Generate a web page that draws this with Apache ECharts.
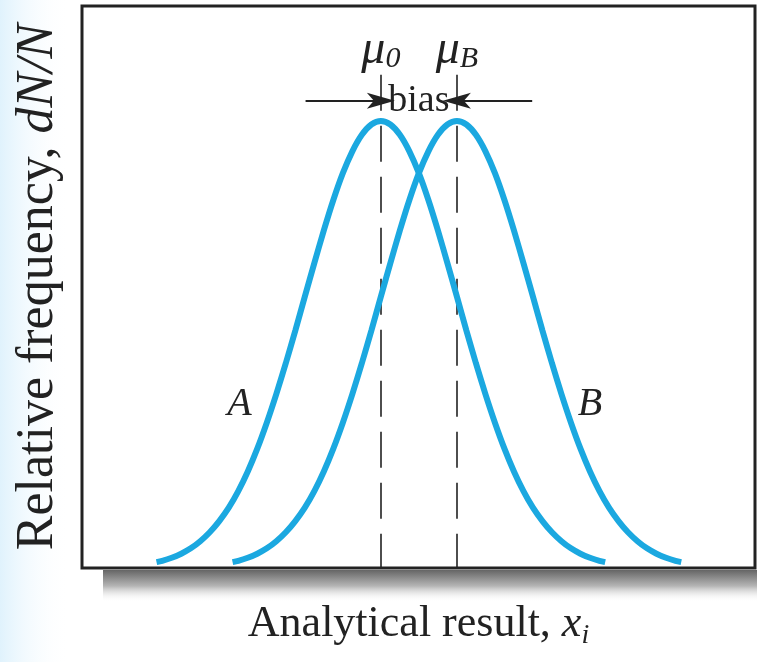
<!DOCTYPE html>
<html>
<head>
<meta charset="utf-8">
<script src="https://cdn.jsdelivr.net/npm/echarts@6/dist/echarts.min.js"></script>
<style>
  html, body { margin: 0; padding: 0; background: #fff; }
  #chart { width: 757px; height: 662px; }
</style>
</head>
<body>
<div id="chart"></div>
<script>
// x in units of one standard deviation, mu0 = 0
var xA = [-2.95, -2.875, -2.75, -2.625, -2.5, -2.375, -2.25, -2.125, -2, -1.875, -1.75, -1.625,
  -1.5, -1.375, -1.25, -1.125, -1, -0.875, -0.75, -0.625, -0.5, -0.375, -0.25, -0.125, 0,
  0.125, 0.25, 0.375, 0.5, 0.625, 0.75, 0.875, 1, 1.125, 1.25, 1.375, 1.5,
  1.625, 1.75, 1.875, 2, 2.125, 2.25, 2.375, 2.5, 2.625, 2.75, 2.875, 2.95]
var xB = [-1.95, -1.875, -1.75, -1.625, -1.5, -1.375, -1.25, -1.125, -1, -0.875, -0.75, -0.625,
  -0.5, -0.375, -0.25, -0.125, 0, 0.125, 0.25, 0.375, 0.5, 0.625, 0.75, 0.875, 1,
  1.125, 1.25, 1.375, 1.5, 1.625, 1.75, 1.875, 2, 2.125, 2.25, 2.375, 2.5,
  2.625, 2.75, 2.875, 3, 3.125, 3.25, 3.375, 3.5, 3.625, 3.75, 3.875, 3.95]
// relative frequency (peak = 1)
var yA = [0.013, 0.016, 0.023, 0.032, 0.044, 0.060, 0.080, 0.105, 0.135, 0.172, 0.216, 0.267,
  0.325, 0.389, 0.458, 0.531, 0.607, 0.682, 0.755, 0.823, 0.883, 0.932, 0.969, 0.992, 1,
  0.992, 0.969, 0.932, 0.883, 0.823, 0.755, 0.682, 0.607, 0.531, 0.458, 0.389, 0.325,
  0.267, 0.216, 0.172, 0.135, 0.105, 0.080, 0.060, 0.044, 0.032, 0.023, 0.016, 0.013]
var yB = [0.013, 0.016, 0.023, 0.032, 0.044, 0.060, 0.080, 0.105, 0.135, 0.172, 0.216, 0.267,
  0.325, 0.389, 0.458, 0.531, 0.607, 0.682, 0.755, 0.823, 0.883, 0.932, 0.969, 0.992, 1,
  0.992, 0.969, 0.932, 0.883, 0.823, 0.755, 0.682, 0.607, 0.531, 0.458, 0.389, 0.325,
  0.267, 0.216, 0.172, 0.135, 0.105, 0.080, 0.060, 0.044, 0.032, 0.023, 0.016, 0.013]
var mu0 = 0
var muB = 1
var markTop = 1.103
var arrowY = 1.045

var serif = "'Liberation Serif', 'DejaVu Serif', serif"
var blue = '#1ba8e0'
var ink = '#222'

function zip (xs, ys) {
  let out = []
  for (let i = 0; i < xs.length; i++) {
    out.push([xs[i], ys[i]])
  }
  return out
}

// barbed arrow head, points up before rotation
var arrowHead = 'path://M5,0 L10,24 L5,18 L0,24 Z'

// text-only mark point
function textPoint (name, coord, size, style) {
  return {
    name: name,
    coord: coord,
    label: {
      show: true,
      position: 'inside',
      formatter: name,
      fontFamily: serif,
      fontStyle: style,
      fontSize: size,
      color: ink
    }
  }
}

var chart = echarts.init(document.getElementById('chart'))
chart.setOption({
  animation: false,
  backgroundColor: '#fff',
  graphic: [
    {
      type: 'rect',
      z: -10,
      shape: { x: 0, y: 0, width: 70, height: 662 },
      style: {
        fill: new echarts.graphic.LinearGradient(0, 0, 1, 0, [
          { offset: 0, color: 'rgba(218,240,252,0.85)' },
          { offset: 1, color: 'rgba(255,255,255,0)' }
        ])
      }
    },
    {
      // shadow under the plot frame
      type: 'rect',
      z: -5,
      shape: { x: 103, y: 570, width: 654, height: 32 },
      style: {
        fill: new echarts.graphic.LinearGradient(0, 0, 0, 1, [
          { offset: 0, color: '#656565' },
          { offset: 0.5, color: '#b5b5b5' },
          { offset: 1, color: 'rgba(255,255,255,0)' }
        ])
      }
    }
  ],
  grid: {
    left: 82,
    right: 2,
    top: 6,
    bottom: 94,
    show: true,
    backgroundColor: '#fff',
    borderColor: ink,
    borderWidth: 3
  },
  xAxis: {
    type: 'value',
    min: -3.93,
    max: 4.92,
    axisLine: { show: false },
    axisTick: { show: false },
    axisLabel: { show: false },
    splitLine: { show: false },
    name: 'Analytical result, {it|x}{sub|i}',
    nameLocation: 'middle',
    nameGap: 30,
    nameTextStyle: {
      fontFamily: serif,
      fontSize: 44,
      color: ink,
      rich: {
        it: { fontFamily: serif, fontSize: 44, fontStyle: 'italic', color: ink },
        sub: { fontFamily: serif, fontSize: 28, fontStyle: 'italic', color: ink, padding: [24, 0, 0, 0] }
      }
    }
  },
  yAxis: {
    type: 'value',
    min: 0,
    max: 1.257,
    axisLine: { show: false },
    axisTick: { show: false },
    axisLabel: { show: false },
    splitLine: { show: false },
    name: 'Relative frequency, {it|dN/N}',
    nameLocation: 'middle',
    nameGap: 18,
    nameTextStyle: {
      fontFamily: serif,
      fontSize: 52,
      color: ink,
      rich: {
        it: { fontFamily: serif, fontSize: 52, fontStyle: 'italic', color: ink }
      }
    }
  },
  series: [
    {
      name: 'A',
      type: 'line',
      smooth: 0.3,
      showSymbol: false,
      data: zip(xA, yA),
      lineStyle: { color: blue, width: 6, cap: 'butt' },
      z: 5,
      markPoint: {
        silent: true,
        symbol: 'circle',
        symbolSize: 2,
        itemStyle: { color: 'rgba(0,0,0,0)' },
        data: [textPoint('A', [-1.86, 0.365], 40, 'italic')]
      },
      markLine: {
        silent: true,
        symbol: ['none', 'none'],
        lineStyle: { color: ink, width: 1.6, type: [36, 15] },
        label: {
          show: true,
          position: 'start',
          distance: 0,
          fontFamily: serif,
          formatter: function (p) { return p.name },
          rich: {
            mu: { fontFamily: serif, fontStyle: 'italic', fontSize: 48, color: ink },
            sub: { fontFamily: serif, fontStyle: 'italic', fontSize: 30, color: ink, padding: [16, 0, 0, 0] }
          }
        },
        data: [
          [{ name: '{mu|μ}{sub|0}', coord: [mu0, markTop] }, { coord: [mu0, 0] }],
          [{ name: '{mu|μ}{sub|B}', coord: [muB, markTop] }, { coord: [muB, 0] }]
        ]
      }
    },
    {
      name: 'B',
      type: 'line',
      smooth: 0.3,
      showSymbol: false,
      data: zip(xB, yB),
      lineStyle: { color: blue, width: 6, cap: 'butt' },
      z: 5,
      markPoint: {
        silent: true,
        symbol: 'circle',
        symbolSize: 2,
        itemStyle: { color: 'rgba(0,0,0,0)' },
        data: [
          textPoint('B', [2.75, 0.365], 40, 'italic'),
          textPoint('bias', [(mu0 + muB) / 2, arrowY], 38, 'normal')
        ]
      },
      markLine: {
        silent: true,
        symbol: ['none', arrowHead],
        symbolSize: [16, 28],
        label: { show: false },
        lineStyle: { color: ink, width: 2, type: 'solid' },
        data: [
          [{ coord: [-0.99, arrowY] }, { coord: [mu0, arrowY] }],
          [{ coord: [1.99, arrowY] }, { coord: [muB, arrowY] }]
        ]
      }
    }
  ]
})
</script>
</body>
</html>
